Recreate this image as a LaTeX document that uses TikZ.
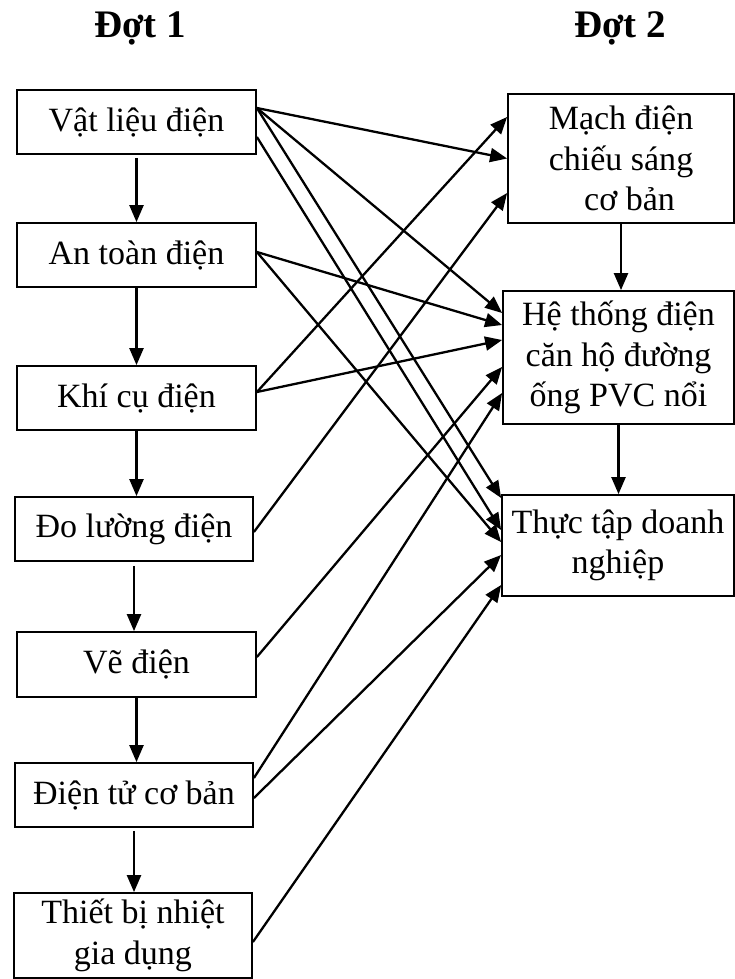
\documentclass[tikz,border=0pt]{standalone}
\usepackage{fontspec}
\setmainfont{Liberation Serif}
\usetikzlibrary{arrows.meta}
\begin{document}
\begin{tikzpicture}[x=1pt,y=-1pt,
  box/.style={draw,line width=1.8pt,align=center,inner sep=0pt,font=\fontsize{34}{40.5}\selectfont},
  title/.style={font=\fontsize{39}{45}\selectfont\bfseries,anchor=base},
  conn/.style={line width=2.3pt,-{Triangle[length=17pt,width=14pt]}}]
\useasboundingbox (0,0) rectangle (735,979);
% titles
\node[title] (t1) at (140,38) {Đợt 1};
\node[title] (t2) at (620,38) {Đợt 2};
% left column
\node[box,minimum width=239pt,minimum height=64pt] (v1) at (136.5,122) {Vật liệu điện};
\node[box,minimum width=239pt,minimum height=64pt] (v2) at (136.5,255) {An toàn điện};
\node[box,minimum width=239pt,minimum height=64pt] (v3) at (136.5,398) {Khí cụ điện};
\node[box,minimum width=238pt,minimum height=64pt] (v4) at (134,529) {Đo lường điện};
\node[box,minimum width=239pt,minimum height=65pt] (v5) at (136.5,664.5) {Vẽ điện};
\node[box,minimum width=238pt,minimum height=64pt] (v6) at (134,795) {Điện tử cơ bản};
\node[box,minimum width=238pt,minimum height=85pt] (v7) at (133,935.5) {Thiết bị nhiệt\\gia dụng};
% right column
\node[box,minimum width=226pt,minimum height=129pt] (r1) at (621,158.5) {Mạch điện\\chiếu sáng\\\ \ cơ bản};
\node[box,minimum width=231pt,minimum height=133pt] (r2) at (618.5,357.5) {Hệ thống điện\\căn hộ đường\\ống PVC nổi};
\node[box,minimum width=232pt,minimum height=101pt] (r3) at (618,545.5) {Thực tập doanh\\nghiệp};
% vertical arrows
\draw[conn] ([yshift=-3pt]v1.south) -- (v1.south |- v2.north);
\draw[conn] (v2.south) -- (v2.south |- v3.north);
\draw[conn] (v3.south) -- (v3.south |- v4.north);
\draw[conn] ([yshift=-4pt]v4.south) -- (v4.south |- v5.north);
\draw[conn] (v5.south) -- (v5.south |- v6.north);
\draw[conn] ([yshift=-3pt]v6.south) -- (v6.south |- v7.north);
\draw[conn] (r1.south) -- (r1.south |- r2.north);
\draw[conn] (r2.south) -- (r2.south |- r3.north);
% cross arrows
\draw[conn] ([yshift=14pt]v1.east) -- ([yshift=0pt]r1.west);
\draw[conn] ([yshift=14pt]v1.east) -- ([yshift=44.5pt]r2.west);
\draw[conn] ([yshift=14pt]v1.east) -- ([yshift=47.5pt]r3.west);
\draw[conn] ([yshift=-15pt]v1.east) -- ([yshift=15.5pt]r3.west);
\draw[conn] ([yshift=3pt]v2.east) -- ([yshift=32.5pt]r2.west);
\draw[conn] ([yshift=3pt]v2.east) -- ([yshift=3.5pt]r3.west);
\draw[conn] ([yshift=6pt]v3.east) -- ([yshift=41.5pt]r1.west);
\draw[conn] ([yshift=6pt]v3.east) -- ([yshift=17.5pt]r2.west);
\draw[conn] ([yshift=-3pt]v4.east) -- ([yshift=-34.5pt]r1.west);
\draw[conn] ([yshift=7.5pt]v5.east) -- ([yshift=-9.5pt]r2.west);
\draw[conn] ([yshift=17pt]v6.east) -- ([yshift=-35.5pt]r2.west);
\draw[conn] ([yshift=-3pt]v6.east) -- ([yshift=-9.5pt]r3.west);
\draw[conn] ([yshift=-6.5pt]v7.east) -- ([yshift=-39.5pt]r3.west);
\end{tikzpicture}
\end{document}
